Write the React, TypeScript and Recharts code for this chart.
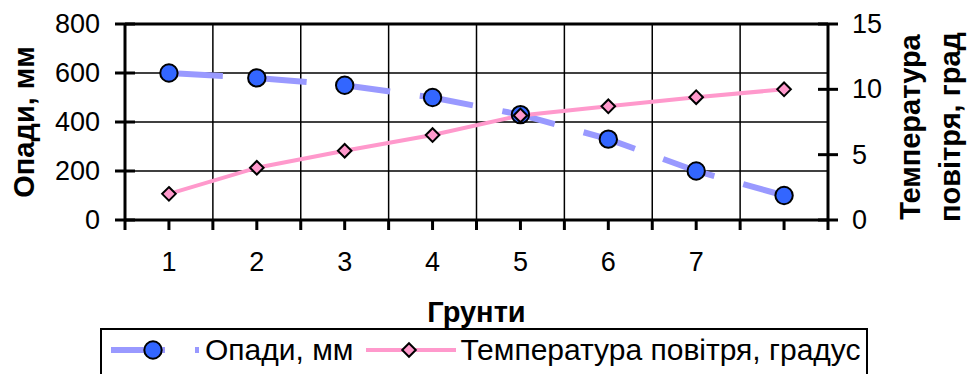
import { LineChart, Line, XAxis, YAxis, CartesianGrid, ReferenceLine, Legend, Label } from "recharts";

// Вихідні дані
const categories = ["1", "2", "3", "4", "5", "6", "7", ""];
const precipitation = [600, 580, 550, 500, 430, 330, 200, 100];
const airTemperature = [2, 4, 5.3, 6.5, 8, 8.7, 9.4, 10];
const leftTicks = [0, 200, 400, 600, 800];
const rightTicks = [0, 5, 10, 15];

const data = categories.map((cat, i) => ({
  cat,
  opady: precipitation[i],
  temp: airTemperature[i],
}));

const FONT = '"Liberation Sans", Arial, sans-serif';
const BLUE_LINE = "#9999FF";
const BLUE_DOT = "#3366FF";
const PINK = "#FF99CC";
const TICK_FONT = 27;
const TITLE_FONT = 29;

// риска, що перетинає вісь, + підпис
const LeftTick = ({ x, y, payload }: any) => (
  <g>
    <line x1={x - 10} x2={x + 10} y1={y} y2={y} stroke="#000" strokeWidth={3} />
    <text x={x - 25} y={y} textAnchor="end" dominantBaseline="central" fontSize={TICK_FONT} fontFamily={FONT} fill="#000">
      {payload.value}
    </text>
  </g>
);

const RightTick = ({ x, y, payload }: any) => (
  <g>
    <line x1={x - 10} x2={x + 10} y1={y} y2={y} stroke="#000" strokeWidth={3} />
    <text x={x + 24} y={y} textAnchor="start" dominantBaseline="central" fontSize={TICK_FONT} fontFamily={FONT} fill="#000">
      {payload.value}
    </text>
  </g>
);

// риски на межах категорій і по центру
const CatTick = ({ x, y, payload, index }: any) => {
  const half = payload.offset || 44;
  const marks = [x - half, x];
  if (index === categories.length - 1) marks.push(x + half);
  return (
    <g>
      {marks.map((m) => (
        <line key={m} x1={m} x2={m} y1={y} y2={y + 10} stroke="#000" strokeWidth={3} />
      ))}
      <text x={x} y={y + 42} textAnchor="middle" dominantBaseline="central" fontSize={TICK_FONT} fontFamily={FONT} fill="#000">
        {payload.value}
      </text>
    </g>
  );
};

const Diamond = ({ cx, cy }: any) => {
  if (cx == null || cy == null) return null;
  const s = 6.8;
  return (
    <path
      d={`M${cx},${cy - s}L${cx + s},${cy}L${cx},${cy + s}L${cx - s},${cy}Z`}
      fill={PINK}
      stroke="#000"
      strokeWidth={2}
    />
  );
};

const renderLegend = ({ payload }: any) => {
  const items = payload || [];
  const rain = items.find((p: any) => p.dataKey === "opady");
  const temp = items.find((p: any) => p.dataKey === "temp");
  return (
    <div
      style={{
        display: "flex",
        alignItems: "center",
        height: 40,
        paddingLeft: 9,
        fontFamily: FONT,
        fontSize: 30,
        color: "#000",
        whiteSpace: "nowrap",
      }}
    >
      <svg width={88} height={24}>
        <line x1={0} x2={88} y1={12} y2={12} stroke={BLUE_LINE} strokeWidth={6} strokeDasharray="54 30" />
        <circle cx={42} cy={12} r={8.7} fill={BLUE_DOT} stroke="#000" strokeWidth={2} />
      </svg>
      <span style={{ marginLeft: 6 }}>{rain ? rain.value : "Опади, мм"}</span>
      <svg width={90} height={24} style={{ marginLeft: 13 }}>
        <line x1={0} x2={90} y1={12} y2={12} stroke={PINK} strokeWidth={4} strokeLinecap="round" />
        <path d="M43,5.2L49.8,12L43,18.8L36.2,12Z" fill={PINK} stroke="#000" strokeWidth={2} />
      </svg>
      <span style={{ marginLeft: 4 }}>{temp ? temp.value : "Температура повітря, градус"}</span>
    </div>
  );
};

export default function App() {
  return (
    <div style={{ position: "absolute", left: 0, top: 0, width: 969, height: 374, overflow: "hidden", background: "#fff" }}>
      <LineChart width={969} height={374} data={data} margin={{ top: 24, right: 0, bottom: 54, left: 0 }}>
        <CartesianGrid
          yAxisId="left"
          stroke="#000"
          strokeWidth={1.5}
          verticalCoordinatesGenerator={({ offset }: any) =>
            categories.map((_, i) => offset.left + (i * offset.width) / categories.length)
          }
        />
        <ReferenceLine yAxisId="left" y={800} stroke="#000" strokeWidth={3} />
        <XAxis
          dataKey="cat"
          scale="band"
          interval={0}
          height={100}
          tickSize={0}
          tickMargin={0}
          tickLine={false}
          tick={<CatTick />}
          axisLine={{ stroke: "#000", strokeWidth: 3 }}
        >
          <Label
            content={({ viewBox }: any) => (
              <text
                x={viewBox.x + viewBox.width / 2}
                y={viewBox.y + 92}
                textAnchor="middle"
                dominantBaseline="central"
                fontSize={TITLE_FONT}
                fontWeight="bold"
                fontFamily={FONT}
                fill="#000"
              >
                Грунти
              </text>
            )}
          />
        </XAxis>
        <YAxis
          yAxisId="left"
          width={125}
          domain={[0, 800]}
          ticks={leftTicks}
          tickSize={0}
          tickMargin={0}
          tickLine={false}
          tick={<LeftTick />}
          axisLine={{ stroke: "#000", strokeWidth: 3 }}
        >
          <Label
            content={({ viewBox }: any) => {
              const cx = viewBox.x + 24;
              const cy = viewBox.y + viewBox.height / 2;
              return (
                <text
                  x={cx}
                  y={cy}
                  transform={`rotate(-90 ${cx} ${cy})`}
                  textAnchor="middle"
                  dominantBaseline="central"
                  fontSize={TITLE_FONT}
                  fontWeight="bold"
                  fontFamily={FONT}
                  fill="#000"
                >
                  Опади, мм
                </text>
              );
            }}
          />
        </YAxis>
        <YAxis
          yAxisId="right"
          orientation="right"
          width={141}
          domain={[0, 15]}
          ticks={rightTicks}
          tickSize={0}
          tickMargin={0}
          tickLine={false}
          tick={<RightTick />}
          axisLine={{ stroke: "#000", strokeWidth: 3 }}
        >
          <Label
            content={({ viewBox }: any) => {
              const cy = viewBox.y + viewBox.height / 2 + 5;
              const lines = ["Температура", "повітря, град"];
              return (
                <g>
                  {lines.map((t, i) => {
                    const cx = viewBox.x + 82 + i * 40;
                    return (
                      <text
                        key={t}
                        x={cx}
                        y={cy}
                        transform={`rotate(-90 ${cx} ${cy})`}
                        textAnchor="middle"
                        dominantBaseline="central"
                        fontSize={TITLE_FONT}
                        fontWeight="bold"
                        fontFamily={FONT}
                        fill="#000"
                      >
                        {t}
                      </text>
                    );
                  })}
                </g>
              );
            }}
          />
        </YAxis>
        <Line
          yAxisId="left"
          dataKey="opady"
          name="Опади, мм"
          stroke={BLUE_LINE}
          strokeWidth={6}
          strokeDasharray="54 30"
          dot={{ r: 8.7, fill: BLUE_DOT, stroke: "#000", strokeWidth: 2, strokeDasharray: "" }}
          isAnimationActive={false}
        />
        <Line
          yAxisId="right"
          dataKey="temp"
          name="Температура повітря, градус"
          stroke={PINK}
          strokeWidth={4}
          dot={<Diamond />}
          isAnimationActive={false}
        />
        <Legend
          verticalAlign="middle"
          align="center"
          layout="horizontal"
          content={renderLegend}
          wrapperStyle={{
            left: 100,
            top: 328,
            width: 768,
            height: 70,
            border: "2px solid #000",
            boxSizing: "border-box",
            background: "#fff",
          }}
        />
      </LineChart>
    </div>
  );
}
